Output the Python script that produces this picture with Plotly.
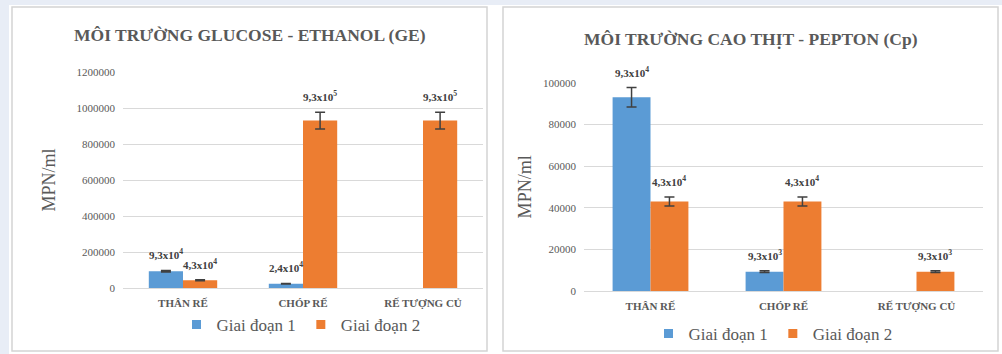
import plotly.graph_objects as go
from plotly.subplots import make_subplots

categories = ["THÂN RẾ", "CHÓP RẾ", "RẾ TƯỢNG CỦ"]
series_names = ["Giai đoạn 1", "Giai đoạn 2"]

ge_g1 = [93000, 24000, None]
ge_g2 = [43000, 930000, 930000]
ge_g1_err = [4650, 1200, 0]
ge_g2_err = [2150, 46500, 46500]
ge_g1_lbl = ["9,3x10<sup>4</sup>", "2,4x10<sup>4</sup>", ""]
ge_g2_lbl = ["4,3x10<sup>4</sup>", "9,3x10<sup>5</sup>", "9,3x10<sup>5</sup>"]

cp_g1 = [93000, 9300, None]
cp_g2 = [43000, 43000, 9300]
cp_g1_err = [4650, 465, 0]
cp_g2_err = [2150, 2150, 465]
cp_g1_lbl = ["9,3x10<sup>4</sup>", "9,3x10<sup>3</sup>", ""]
cp_g2_lbl = ["4,3x10<sup>4</sup>", "4,3x10<sup>4</sup>", "9,3x10<sup>3</sup>"]

titles = ["MÔI TRƯỜNG GLUCOSE - ETHANOL (GE)", "MÔI TRƯỜNG CAO THỊT - PEPTON (Cp)"]
y_title = "MPN/ml"

BLUE = "#5B9BD5"
ORANGE = "#ED7D31"
GRAY = "#595959"
SERIF = "Liberation Serif"

fig = make_subplots(rows=1, cols=2)

panels = [
    (1, [ge_g1, ge_g2], [ge_g1_err, ge_g2_err], [ge_g1_lbl, ge_g2_lbl], "legend"),
    (2, [cp_g1, cp_g2], [cp_g1_err, cp_g2_err], [cp_g1_lbl, cp_g2_lbl], "legend2"),
]
colors = [BLUE, ORANGE]
bargap = 0.43
offs = [-(1 - bargap) / 4, (1 - bargap) / 4]

annotations = []
for col, vals, errs, lbls, leg in panels:
    for s in range(2):
        fig.add_trace(go.Bar(
            x=categories, y=vals[s], name=series_names[s],
            marker=dict(color=colors[s], line=dict(width=0)),
            error_y=dict(type="data", array=errs[s], visible=True,
                         color="#404040", thickness=1.5, width=5),
            showlegend=False, hoverinfo="skip",
        ), row=1, col=col)
        fig.add_trace(go.Scatter(
            x=[None], y=[None], mode="markers", name=series_names[s],
            marker=dict(symbol="square", size=9, color=colors[s]),
            legend=leg, showlegend=True, hoverinfo="skip",
        ), row=1, col=col)
        axn = "" if col == 1 else "2"
        for i, (v, e, t) in enumerate(zip(vals[s], errs[s], lbls[s])):
            if v is None or not t:
                continue
            annotations.append(dict(
                x=i + offs[s], y=v + e, xref="x" + axn, yref="y" + axn,
                text="<b>" + t + "</b>", showarrow=False, yanchor="bottom",
                xanchor="center", yshift=7,
                font=dict(family=SERIF, size=11, color="#404040")))

annotations.append(dict(x=250 / 1002, y=1 - 35 / 354, xref="paper", yref="paper",
                        xanchor="center", yanchor="middle",
                        text="<b>" + titles[0] + "</b>", showarrow=False,
                        font=dict(family=SERIF, size=17.5, color=GRAY)))
annotations.append(dict(x=751 / 1002, y=1 - 39 / 354, xref="paper", yref="paper",
                        xanchor="center", yanchor="middle",
                        text="<b>" + titles[1] + "</b>", showarrow=False,
                        font=dict(family=SERIF, size=17.5, color=GRAY)))

fig.update_layout(
    template="none",
    width=1002, height=354,
    margin=dict(l=0, r=0, t=0, b=0, pad=0, autoexpand=False),
    paper_bgcolor="#e8edf6",
    plot_bgcolor="rgba(0,0,0,0)",
    font=dict(family=SERIF, color=GRAY),
    barmode="group", bargap=bargap, bargroupgap=0,
    showlegend=True,
    annotations=annotations,
    legend=dict(orientation="h", x=301 / 1002, y=1 - 325 / 354, xanchor="center",
                yanchor="middle", bgcolor="rgba(0,0,0,0)", itemwidth=30,
                font=dict(family=SERIF, size=17, color=GRAY)),
    legend2=dict(orientation="h", x=773 / 1002, y=1 - 334 / 354, xanchor="center",
                 yanchor="middle", bgcolor="rgba(0,0,0,0)", itemwidth=30,
                 font=dict(family=SERIF, size=17, color=GRAY)),
    shapes=[
        dict(type="rect", xref="paper", yref="paper", x0=9 / 1002, x1=1, y0=0,
             y1=1 - 5 / 354, fillcolor="white", line=dict(width=0), layer="below"),
        dict(type="rect", xref="paper", yref="paper", x0=12 / 1002, x1=487 / 1002,
             y0=1 - 351 / 354, y1=1 - 7 / 354, fillcolor="white",
             line=dict(color="#d4d4d4", width=1.5), layer="below"),
        dict(type="rect", xref="paper", yref="paper", x0=503 / 1002, x1=998 / 1002,
             y0=1 - 351 / 354, y1=1 - 7 / 354, fillcolor="white",
             line=dict(color="#d4d4d4", width=1.5), layer="below"),
    ],
)

axis_common = dict(showgrid=False, showline=True, linecolor="#d9d9d9", linewidth=1,
                   ticks="", tickfont=dict(family=SERIF, size=11, color=GRAY),
                   fixedrange=True, automargin=False, zeroline=False,
                   ticklabelstandoff=5)
yaxis_common = dict(showgrid=True, gridcolor="#d9d9d9", gridwidth=1, zeroline=False,
                    showline=False, ticks="", tickformat="d", automargin=False,
                    fixedrange=True, ticklabelstandoff=7,
                    tickfont=dict(family=SERIF, size=11, color=GRAY))

fig.update_xaxes(**axis_common)
fig.update_layout(
    xaxis=dict(domain=[123 / 1002, 483 / 1002], tickprefix="<b>", ticksuffix="</b>"),
    xaxis2=dict(domain=[584 / 1002, 983 / 1002], tickprefix="<b>", ticksuffix="</b>"),
    yaxis=dict(domain=[1 - 288 / 354, 1 - 72 / 354], range=[0, 1200000], dtick=200000,
               title=dict(text=y_title, font=dict(family=SERIF, size=18, color=GRAY),
                          standoff=16),
               **yaxis_common),
    yaxis2=dict(domain=[1 - 291 / 354, 1 - 82.7 / 354], range=[0, 100000], dtick=20000,
                title=dict(text=y_title, font=dict(family=SERIF, size=18, color=GRAY),
                           standoff=6),
                **yaxis_common),
)

fig.write_html("out.html", config={"displayModeBar": False},
               post_script="document.body.style.margin='0px';")
